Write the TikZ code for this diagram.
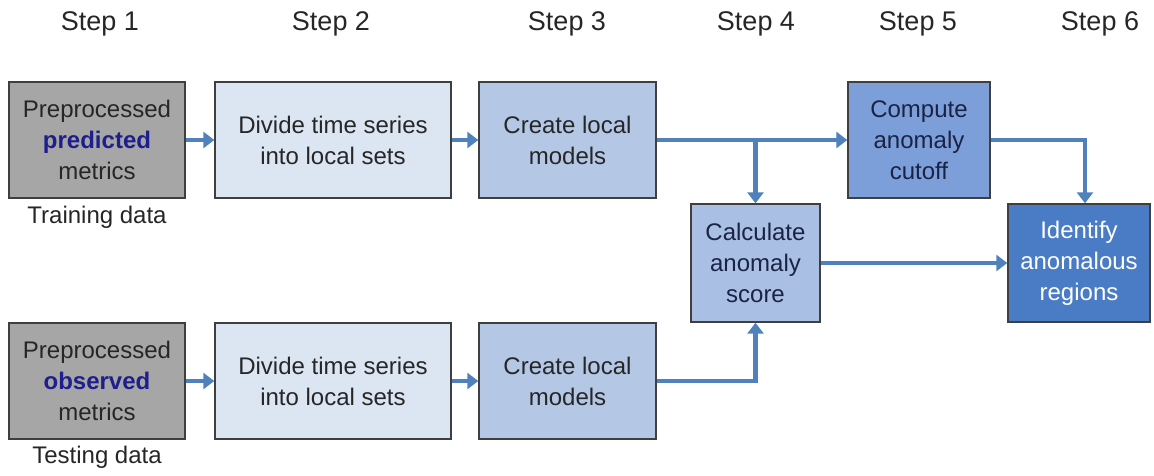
\documentclass[tikz,border=0pt]{standalone}
\usepackage{fontspec}
\setmainfont{Liberation Sans}
\usetikzlibrary{arrows.meta}
\definecolor{flow}{HTML}{4F81BD}
\definecolor{edge}{HTML}{3F3F3F}
\definecolor{inputgray}{HTML}{A6A6A6}
\definecolor{splitblue}{HTML}{DCE6F2}
\definecolor{modelblue}{HTML}{B4C7E5}
\definecolor{scoreblue}{HTML}{A9BFE3}
\definecolor{cutblue}{HTML}{7C9FDA}
\definecolor{regionblue}{HTML}{4A7CC6}
\definecolor{ink}{HTML}{262626}
\definecolor{navyink}{HTML}{1A2345}
\definecolor{keyword}{HTML}{1E1E8C}
\tikzset{
  stage/.style={draw=edge, line width=1.4pt, align=center, inner sep=0pt,
    text=ink, font=\fontsize{24}{31}\selectfont},
  steplabel/.style={font=\fontsize{27}{30}\selectfont, text=ink},
  datalabel/.style={font=\fontsize{24}{28}\selectfont, text=ink},
  link/.style={draw=flow, line width=4.5pt,
    -{Triangle[length=11pt,width=16pt]}}
}
\begin{document}
\begin{tikzpicture}[x=1pt,y=-1pt]
\useasboundingbox (0,0) rectangle (1154,475);

% step headings
\node[steplabel] (s1) at (100,24) {Step 1};
\node[steplabel] (s2) at (331,24) {Step 2};
\node[steplabel] (s3) at (567,24) {Step 3};
\node[steplabel] (s4) at (756,24) {Step 4};
\node[steplabel] (s5) at (918,24) {Step 5};
\node[steplabel] (s6) at (1100,24) {Step 6};

% training branch
\node[stage, fill=inputgray, minimum width=176pt, minimum height=116pt]
  (p1) at (97,140) {Preprocessed\\\textcolor{keyword}{\bfseries predicted}\\metrics};
\node[stage, fill=splitblue, minimum width=236pt, minimum height=116pt]
  (d1) at (333,140) {Divide time series\\into local sets};
\node[stage, fill=modelblue, minimum width=177pt, minimum height=116pt]
  (m1) at (567.5,140) {Create local\\models};

% testing branch
\node[stage, fill=inputgray, minimum width=176pt, minimum height=116pt]
  (p2) at (97,381) {Preprocessed\\\textcolor{keyword}{\bfseries observed}\\metrics};
\node[stage, fill=splitblue, minimum width=236pt, minimum height=116pt]
  (d2) at (333,381) {Divide time series\\into local sets};
\node[stage, fill=modelblue, minimum width=177pt, minimum height=116pt]
  (m2) at (567.5,381) {Create local\\models};

% scoring and decision stages
\node[stage, fill=scoreblue, minimum width=129pt, minimum height=118pt, text=navyink]
  (sc) at (755.5,263) {Calculate\\anomaly\\score};
\node[stage, fill=cutblue, minimum width=142pt, minimum height=116pt, text=navyink]
  (cut) at (919,140) {Compute\\anomaly\\cutoff};
\node[stage, fill=regionblue, minimum width=142pt, minimum height=118pt, text=white]
  (reg) at (1079,263) {Identify\\anomalous\\regions};

% data captions
\node[datalabel] (train) at (97,217) {Training data};
\node[datalabel] (test) at (97,457) {Testing data};

% connectors
\coordinate (split) at (sc.north |- m1.east);
\draw[link] (p1) -- (d1);
\draw[link] (d1) -- (m1);
\draw[link] (m1.east) -- (cut.west);
\draw[link] (split) -- (sc.north);
\draw[link] (p2) -- (d2);
\draw[link] (d2) -- (m2);
\draw[link] (m2.east) -| (sc.south);
\draw[link] (sc.east) -- (reg.west);
\draw[link] (cut.east) -| ([xshift=6pt]reg.north);
\end{tikzpicture}
\end{document}
